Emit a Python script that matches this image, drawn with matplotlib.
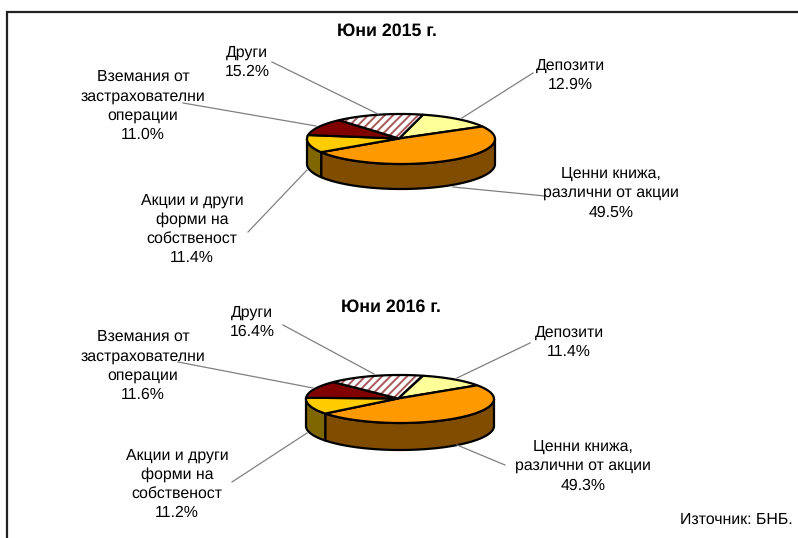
import numpy as np
import matplotlib
matplotlib.use("Agg")
import matplotlib.pyplot as plt

plt.rcParams['font.family'] = ['Liberation Sans', 'DejaVu Sans']
plt.rcParams['hatch.linewidth'] = 1.4
plt.rcParams['text.hinting'] = 'no_hinting'

# Data, clockwise from the top
values_2015 = [12.9, 49.5, 11.4, 11.0, 15.2]
values_2016 = [11.4, 49.3, 11.2, 11.6, 16.4]
names = ["Депозити", "Ценни книжа,\nразлични от акции", "Акции и други\nформи на\nсобственост",
         "Вземания от\nзастрахователни\nоперации", "Други"]
titles = ["Юни 2015 г.", "Юни 2016 г."]
source = "Източник: БНБ."

top_colors = ["#FFFF99", "#FF9900", "#FFCC00", "#800000", "white"]
side_colors = ["#80804D", "#804D00", "#806600", "#400000", "#808080"]
hatch_color = "#A85858"


def draw_pie(ax, values, cx, cy, rx, ry, depth, start):
    angles = start - np.cumsum([0] + values) * 3.6

    # side wall first, only the front half of the pie shows
    for i in range(len(values)):
        a0, a1 = angles[i + 1], angles[i]
        for lo, hi in [(a0, a1), (a0 + 360, a1 + 360)]:
            lo2, hi2 = max(lo, 180), min(hi, 360)
            if hi2 <= lo2:
                continue
            t = np.radians(np.linspace(lo2, hi2, 60))
            x = cx + rx * np.cos(t)
            y = cy - ry * np.sin(t)
            ax.fill(np.r_[x, x[::-1]], np.r_[y, y[::-1] + depth],
                    fc=side_colors[i], ec="black", lw=1.6, joinstyle="round")

    # top face, the apex sits a little left of the ellipse centre
    for i in range(len(values)):
        t = np.radians(np.linspace(angles[i], angles[i + 1], 80))
        x = np.r_[cx - 2, cx + rx * np.cos(t)]
        y = np.r_[cy - 0.5, cy - ry * np.sin(t)]
        if i == 4:
            ax.fill(x, y, fc="white", ec=hatch_color, hatch="////", lw=0)
            ax.fill(x, y, fc="none", ec="black", lw=1.6)
        else:
            ax.fill(x, y, fc=top_colors[i], ec="black", lw=1.6)


def label(ax, text, x, y):
    ax.text(x, y, text, ha="center", va="center", fontsize=11.4, color="black", linespacing=1.37)


fig = plt.figure(figsize=(7.98, 5.38), dpi=100)
ax = fig.add_axes([0, 0, 1, 1])
ax.set_xlim(0, 798)
ax.set_ylim(538, 0)
ax.axis("off")

# outer frame
ax.plot([7, 7, 798], [538, 11.5, 11.5], color="#222222", lw=1.6, solid_joinstyle="miter")

# leader lines
leaders = [
    ((272, 62), (378, 114)), ((533, 73), (462, 118)), ((183, 103), (316, 126)),
    ((248, 232), (307, 170)), ((453, 187), (545, 196)),
    ((283, 325), (374, 374)), ((530, 343), (457, 378)), ((178, 362), (313, 388)),
    ((232, 482), (307, 433)), ((457, 445), (505, 465)),
]
for p, q in leaders:
    ax.plot([p[0], q[0]], [p[1], q[1]], color="#808080", lw=0.9)

draw_pie(ax, values_2015, 401, 139, 94, 25, 25, 76.5)
draw_pie(ax, values_2016, 400, 399, 94, 24, 27, 75.8)

ax.text(387, 31, titles[0], ha="center", va="center", fontsize=12.8, fontweight="bold")
ax.text(391, 307, titles[1], ha="center", va="center", fontsize=12.8, fontweight="bold")

pos_2015 = [(570, 75), (611, 193), (192, 229), (143, 106), (247, 62)]
pos_2016 = [(569, 342), (583, 466), (177, 484), (143, 366), (252, 322)]
for vals, pos in [(values_2015, pos_2015), (values_2016, pos_2016)]:
    for name, v, (x, y) in zip(names, vals, pos):
        label(ax, f"{name}\n{v:.1f}%", x, y)

ax.text(793, 520, source, ha="right", va="center", fontsize=11.4)

fig.savefig("out.png", dpi=100)
